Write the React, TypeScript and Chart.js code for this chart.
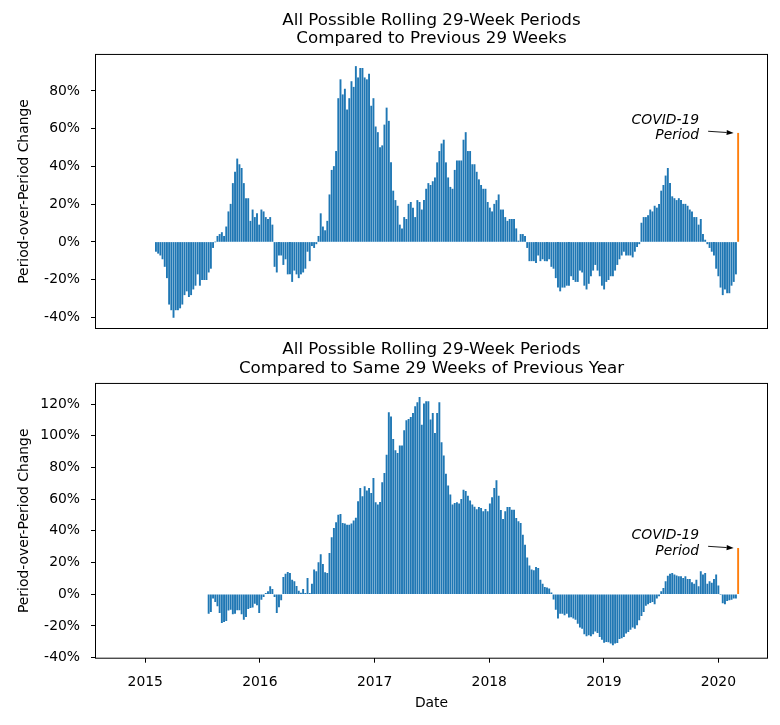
import React, { useEffect, useRef } from 'react';
import { Chart, registerables } from 'chart.js';

Chart.register(...registerables);

// ---------- data ----------
const WEEK_MS = 7 * 24 * 3600 * 1000;
const TOP_START = Date.UTC(2015, 1, 4);
const BOTTOM_START = Date.UTC(2015, 6, 22);
const X_MIN = Date.UTC(2014, 6, 28);
const X_MAX = Date.UTC(2020, 5, 4);
const TICK_YEARS = [2015, 2016, 2017, 2018, 2019, 2020];
const TOP_Y_TICKS = [-40, -20, 0, 20, 40, 60, 80];
const BOTTOM_Y_TICKS = [-40, -20, 0, 20, 40, 60, 80, 100, 120];
const TOP_TITLE = ['All Possible Rolling 29-Week Periods', 'Compared to Previous 29 Weeks'];
const BOTTOM_TITLE = ['All Possible Rolling 29-Week Periods', 'Compared to Same 29 Weeks of Previous Year'];
const Y_LABEL = 'Period-over-Period Change';
const X_LABEL = 'Date';
const ANNOTATION_LINES = ['COVID-19', 'Period'];

// weekly % change vs previous 29 weeks (last value = COVID-19 period)
const TOP_VALUES = [
  -5, -6, -7, -9, -13, -19, -33, -36, -40, -36,
  -36, -35, -33, -28, -26, -29, -28, -25, -23, -17,
  -23, -20, -20, -20, -16, -14, -3, 0, 3, 4,
  5, 3, 8, 16, 20, 31, 37, 44, 41, 39,
  31, 23, 23, 11, 17, 13, 15, 9, 17, 16,
  13, 12, 13, 9, -13, -16, -7, -7, -12, -9,
  -17, -17, -21, -15, -17, -19,
  -17, -16, -14, -5, -10, -2, -3, -1, 3, 15,
  8, 6, 11, 25, 38, 40, 48, 76, 86, 78,
  81, 70, 76, 85, 82, 93, 87, 92, 92, 87,
  86, 89, 72, 76, 61, 58, 50, 51, 62, 71,
  64, 42, 27, 22, 19, 9, 7, 13, 12, 20,
  21, 18, 13, 22, 21, 17, 22, 28, 31, 30,
  32, 34, 42, 48, 52, 54,
  42, 34, 29, 28, 38, 43, 43, 43, 54, 58,
  48, 48, 41, 41, 37, 33, 30, 28, 28, 21,
  18, 16, 20, 22, 25, 17, 17, 13, 11, 12,
  12, 12, 7, 0.5, 4, 4, 3, -3, -10, -10,
  -10, -11, -7, -10, -9, -10, -10, -9, -13, -14,
  -19, -24, -26, -24, -24, -23, -23, -18, -20, -21,
  -21, -15, -16, -23, -25, -22, -18,
  -15, -12, -15, -18, -23, -25, -21, -20, -18, -18,
  -15, -12, -9, -7, -5, -7, -7, -7, -8, -5,
  -2.5, -1, 10, 13, 13, 14, 17, 16, 19, 18,
  20, 27, 30, 35, 39, 31, 24, 23, 22, 23,
  22, 20, 20, 19, 17, 16, 13, 13, 9, 12,
  4, 1, -1, -3, -5, -7, -14, -18, -24, -28,
  -25, -27, -27, -23, -21, -17,
  57.6,
];

// weekly % change vs same 29 weeks of previous year (last value = COVID-19 period)
const BOTTOM_VALUES = [
  -12, -11, -2.5, -4.6, -7.4, -11.6, -17.9, -17.2, -16.6, -10,
  -9.5, -12.4, -12, -9.9, -9.9, -12.4, -15.8, -14.1, -9, -8.4,
  -8.2, -5.7, -6.7, -11.6, -3.2, -1.5, 0.6, 1.7, 4.8, 3.2,
  -1.5, -11.6, -8, -3.6, 10.7, 12.8, 13.9, 13.2, 9, 8,
  5, 2, 0.8, 3.2, 0.6, 10.1, 0.6, 6.5, 15.4, 14.3,
  20, 25, 18.9, 13.7, 13.2, 25.9, 35.8, 41.6, 45.2, 50,
  50.5, 44.8, 44.4, 43.7, 43.7, 44.4, 46.3, 48, 58.5, 66.9,
  61.6, 67.9, 65.2, 66.9, 63.7, 73.2, 57.8, 56.4, 58, 70.5,
  76.3, 87.9, 114.6, 112, 97.8, 90.6, 89, 93.6, 93.6, 103.3,
  109.6, 110.4, 111.7, 114.2, 118.4, 120.9, 124.3, 106.8, 120.1, 121.5,
  121.5, 110, 114.2, 101.6, 114.2, 120.9, 95.7, 87.3, 75.9, 68.4,
  62.7, 56.4, 57.4, 57.8, 57, 59.9, 65.8, 65, 62, 59,
  56.5,
  55, 53.4, 54.9, 54.3, 52.2, 53.6, 52.2, 57, 61, 66.9,
  71.7, 62, 53, 47.3, 52.2, 54.9, 54.9, 53.2, 53.2, 47.9,
  45.8, 44.8, 37.4, 31.1, 23, 18, 15.4, 14.9, 17, 16.4,
  9, 6.5, 4.4, 4.1, 3.5, 1, -3, -9.5, -15.1, -12,
  -12, -13, -12, -14.5, -14.3, -15, -15.8, -18.3, -20.8, -21.5,
  -25, -26.3, -25.7, -26.3, -25, -23.2, -24.2, -26.7, -28.4, -30.3,
  -29.9, -30,
  -30.9, -32, -30.9, -30.5, -28, -27.5, -26.8, -24.6, -23.6, -22.1,
  -20.8, -21.5, -19.3, -16.2, -13.5, -11, -7, -6.1, -5.3, -4.6,
  -6.1, -2.5, -1.1, 1.7, 3.8, 8, 11.5, 12.8, 13.2, 12.2,
  11.6, 11.1, 11.1, 10.1, 11.1, 9.5, 9.5, 7.4, 6.5, 9,
  4.8, 14.3, 12.2, 13.2, 6.5, 8, 7, 9.5, 12.2, 5.3,
  0, -5.5, -6, -4, -3.6, -3.2, -2.5, -2.5,
  29,
];

// ---------- styles ----------
const FONT = 'DejaVu Sans';
const BLUE = '#1f77b4';
const ORANGE = '#ff7f0e';

const boxAndNotePlugin = {
  id: 'boxAndNote',
  afterDraw(chart: any) {
    const { ctx, chartArea } = chart;
    const { left, top, right, bottom } = chartArea;
    ctx.save();
    ctx.strokeStyle = '#000';
    ctx.lineWidth = 1;
    ctx.strokeRect(left - 0.5, top - 0.5, right - left + 1, bottom - top + 1);

    const meta = chart.getDatasetMeta(0);
    const el = meta.data[meta.data.length - 1];
    if (el) {
      const x = el.x;
      const y = el.y;
      ctx.fillStyle = '#000';
      ctx.font = `italic 13.9px "${FONT}"`;
      ctx.textAlign = 'right';
      ctx.textBaseline = 'middle';
      ctx.fillText(ANNOTATION_LINES[0], x - 39, y - 12.6);
      ctx.fillText(ANNOTATION_LINES[1], x - 39, y + 2.6);
      // arrow
      const tx = x - 30, ty = y - 2;
      const hx = x - 4.5, hy = y - 0.3;
      const ang = Math.atan2(hy - ty, hx - tx);
      const hl = 7, hw = 2.6;
      const bx = hx - hl * Math.cos(ang), by = hy - hl * Math.sin(ang);
      ctx.strokeStyle = '#000';
      ctx.lineWidth = 0.9;
      ctx.beginPath();
      ctx.moveTo(tx, ty);
      ctx.lineTo(bx, by);
      ctx.stroke();
      ctx.beginPath();
      ctx.moveTo(hx, hy);
      ctx.lineTo(bx + hw * Math.sin(ang), by - hw * Math.cos(ang));
      ctx.lineTo(bx - hw * Math.sin(ang), by + hw * Math.cos(ang));
      ctx.closePath();
      ctx.fill();
    }
    ctx.restore();
  },
};

type PanelProps = {
  values: number[];
  start: number;
  title: string[];
  yMin: number;
  yMax: number;
  yTicks: number[];
  showX: boolean;
  width: number;
  height: number;
  titlePadTop: number;
  titlePadBottom: number;
  bottomPad: number;
  xAxisHeight: number;
};

function Panel(p: PanelProps) {
  const ref = useRef<HTMLCanvasElement | null>(null);
  useEffect(() => {
    if (!ref.current) return;
    const data = p.values.map((v, i) => ({ x: p.start + i * WEEK_MS, y: v }));
    const colors = p.values.map((_, i) => (i === p.values.length - 1 ? ORANGE : BLUE));
    const tickFont = { family: FONT, size: 13.9 };
    const chart = new Chart(ref.current, {
      type: 'bar',
      data: {
        datasets: [
          {
            data: data as any,
            backgroundColor: colors,
            borderWidth: 0,
            barThickness: 1.25,
          },
        ],
      },
      options: {
        animation: false,
        responsive: false,
        maintainAspectRatio: false,
        layout: { padding: { left: 0, right: 13, top: 0, bottom: p.bottomPad } },
        plugins: {
          legend: { display: false },
          tooltip: { enabled: false },
          title: {
            display: true,
            text: p.title,
            fullSize: false,
            color: '#000',
            font: { family: FONT, size: 16.7, weight: 'normal', lineHeight: 1.1 },
            padding: { top: p.titlePadTop, bottom: p.titlePadBottom },
          },
        },
        scales: {
          x: {
            type: 'linear',
            min: X_MIN,
            max: X_MAX,
            offset: false,
            display: p.showX,
            afterBuildTicks: (scale: any) => {
              scale.ticks = TICK_YEARS.map((y) => ({ value: Date.UTC(y, 0, 1) }));
            },
            afterFit: (scale: any) => {
              scale.height = p.xAxisHeight;
              scale.paddingLeft = 0;
              scale.paddingRight = 0;
            },
            grid: {
              display: true,
              offset: false,
              drawOnChartArea: false,
              drawTicks: true,
              tickLength: 5,
              color: '#000',
              lineWidth: 1,
            },
            border: { display: false },
            ticks: {
              autoSkip: false,
              maxRotation: 0,
              padding: 11,
              color: '#000',
              font: tickFont,
              callback: (v: any) => String(new Date(Number(v)).getUTCFullYear()),
            },
            title: {
              display: true,
              text: X_LABEL,
              color: '#000',
              font: { family: FONT, size: 13.9, lineHeight: 1.2 },
              padding: { top: 0, bottom: 13.7 },
            },
          },
          y: {
            type: 'linear',
            min: p.yMin,
            max: p.yMax,
            afterBuildTicks: (scale: any) => {
              scale.ticks = p.yTicks.map((v) => ({ value: v }));
            },
            afterFit: (scale: any) => {
              scale.width = 96;
              scale.paddingTop = 0;
              scale.paddingBottom = 0;
            },
            grid: {
              display: true,
              drawOnChartArea: false,
              drawTicks: true,
              tickLength: 5,
              color: '#000',
              lineWidth: 1,
            },
            border: { display: false },
            ticks: {
              autoSkip: false,
              padding: 11,
              color: '#000',
              font: tickFont,
              callback: (v: any) => `${v}%`,
            },
            title: {
              display: true,
              text: Y_LABEL,
              color: '#000',
              font: { family: FONT, size: 13.9, lineHeight: 1.2 },
              padding: { top: 15.7, bottom: 0 },
            },
          },
        },
      } as any,
      plugins: [boxAndNotePlugin],
    });
    return () => chart.destroy();
  }, []);
  return (
    <canvas
      ref={ref}
      width={p.width}
      height={p.height}
      style={{ display: 'block', width: p.width, height: p.height }}
    />
  );
}

export default function App() {
  return (
    <div style={{ position: 'absolute', left: 0, top: 0, width: 780, height: 725, background: '#fff' }}>
      <Panel
        values={TOP_VALUES}
        start={TOP_START}
        title={TOP_TITLE}
        yMin={-45.6}
        yMax={99.1}
        yTicks={TOP_Y_TICKS}
        showX={false}
        width={780}
        height={340}
        titlePadTop={11.5}
        titlePadBottom={6.7}
        bottomPad={12}
        xAxisHeight={0}
      />
      <Panel
        values={BOTTOM_VALUES}
        start={BOTTOM_START}
        title={BOTTOM_TITLE}
        yMin={-40}
        yMax={132.7}
        yTicks={BOTTOM_Y_TICKS}
        showX={true}
        width={780}
        height={385}
        titlePadTop={0.8}
        titlePadBottom={6.4}
        bottomPad={0}
        xAxisHeight={67.3}
      />
    </div>
  );
}
